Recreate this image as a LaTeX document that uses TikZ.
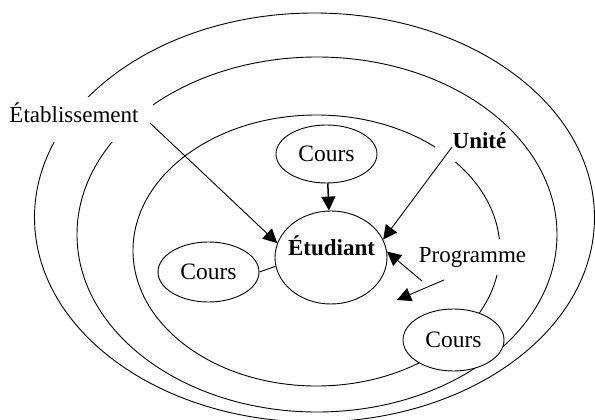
\documentclass[tikz,border=0pt]{standalone}
\usepackage{fontspec}
\setmainfont{Liberation Serif}
\usetikzlibrary{shapes.geometric,arrows.meta}
\begin{document}
\begin{tikzpicture}[x=1pt,y=-1pt,
  ring/.style={draw, ellipse, line width=0.9pt, inner sep=0pt},
  bubble/.style={draw, ellipse, fill=white, line width=0.9pt, inner sep=0pt, font=\fontsize{23.5}{27}\selectfont},
  lbl/.style={inner sep=0pt, font=\fontsize{23}{27}\selectfont},
  lblb/.style={inner sep=0pt, font=\fontsize{23}{27}\selectfont\bfseries},
  arr/.style={line width=0.9pt, -{Triangle[length=14pt,width=14pt]}}]
\useasboundingbox (0,0) rectangle (595,420);
% nested domains
\node[ring, minimum width=560pt, minimum height=409pt] (rA) at (314.5,217.5) {};
\node[ring, minimum width=480pt, minimum height=355pt] (rB) at (317,234.5) {};
\node[ring, minimum width=367pt, minimum height=271pt] (rC) at (316.5,250.5) {};
% label backgrounds
\fill[white] (0,97) rectangle (153,142);
\fill[white] (435,129) rectangle (501,162);
\fill[white] (414,239) rectangle (532,275);
% bubbles
\node[bubble, minimum width=112pt, minimum height=93pt] (etu) at (331,257.5) {};
\node[bubble, minimum width=101pt, minimum height=58pt] (c1) at (326.5,154) {Cours};
\node[bubble, minimum width=101pt, minimum height=60pt] (c2) at (208.5,272) {Cours};
\node[bubble, minimum width=101pt, minimum height=62pt] (c3) at (453.5,340) {Cours};
% labels
\node[lbl, anchor=base] (etab) at (74,122) {Établissement};
\node[lblb, anchor=base] (unite) at (479.5,148) {Unité};
\node[lbl, anchor=base] (prog) at (472.5,262) {Programme};
\node[lblb, anchor=base] (etul) at (331.5,255) {Étudiant};
% connector ends
\coordinate (eS) at (150,123);
\coordinate (uS) at (452,147);
\coordinate (pS1) at (422,281);
\coordinate (pS2) at (444,280);
\coordinate (pT2) at (397,300);
% connectors
\draw[arr] (eS) -- (etu.165);
\draw[arr] (uS) -- (etu.19);
\draw[arr] (pS1) -- (etu.6);
\draw[arr] (pS2) -- (pT2);
\draw[arr, line width=1.5pt] (c1) -- (etu);
\draw[line width=0.9pt] (c2.east) -- (etu.189);
\end{tikzpicture}
\end{document}
